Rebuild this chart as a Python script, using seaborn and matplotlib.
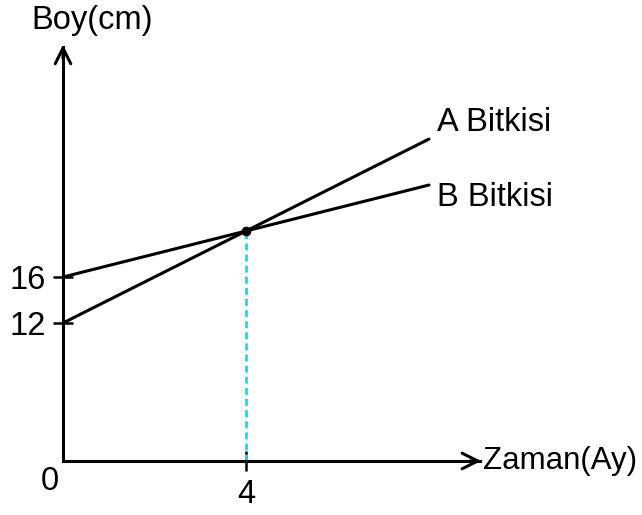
import matplotlib
matplotlib.use("Agg")
import matplotlib.pyplot as plt
import seaborn as sns
import pandas as pd

# data
months = [0, 4, 8]
plant_a = [12, 20, 28]
plant_b = [16, 20, 24]
series_names = ["A Bitkisi", "B Bitkisi"]
y_ticks = [12, 16]
x_ticks = [4]
meet_x, meet_y = 4, 20

df = pd.DataFrame({
    "Zaman": months * 2,
    "Boy": plant_a + plant_b,
    "bitki": [series_names[0]] * 3 + [series_names[1]] * 3,
})

sns.set_style("white")
plt.rcParams["font.family"] = ["Liberation Sans", "DejaVu Sans"]
plt.rcParams["text.color"] = "black"

fig = plt.figure(figsize=(6.42, 5.15), dpi=100)
ax = fig.add_axes([0, 0, 1, 1])

sns.lineplot(data=df, x="Zaman", y="Boy", hue="bitki",
             palette=["black", "black"], linewidth=2.2, legend=False, ax=ax)

# dashed cyan drop line and meeting point
ax.plot([meet_x, meet_x], [0, meet_y], color="#00e5ee", linestyle=(0, (2.5, 1.5)),
        linewidth=2, zorder=1)
ax.plot([meet_x], [meet_y], "o", color="black", markersize=6, zorder=4)

ax.set_xlim(-1.377, 12.656)
ax.set_ylim(-4.696, 40.09)

# axes as spines through origin
for s in ["top", "right"]:
    ax.spines[s].set_visible(False)
ax.spines["left"].set_position(("data", 0))
ax.spines["bottom"].set_position(("data", 0))
ax.spines["left"].set_bounds(0, 36)
ax.spines["bottom"].set_bounds(0, 9.12)
for s in ["left", "bottom"]:
    ax.spines[s].set_linewidth(2.2)
    ax.spines[s].set_color("black")

ax.set_yticks(y_ticks)
ax.set_xticks(x_ticks)
ax.tick_params(axis="both", direction="inout", length=14.5, width=1.8,
               labelsize=23.5, colors="black", left=True, bottom=True)
ax.tick_params(axis="y", pad=5)
ax.tick_params(axis="x", pad=6)
ax.set_xlabel("")
ax.set_ylabel("")

# arrow heads
arrow = dict(arrowstyle="->", color="black", lw=2.2, mutation_scale=28,
             shrinkA=0, shrinkB=0)
ax.annotate("", xy=(0, 36.2), xytext=(0, 35.0), arrowprops=arrow)
ax.annotate("", xy=(9.14, 0), xytext=(8.9, 0), arrowprops=arrow)

fs = 23.5
ax.text(0.63, 38.3, "Boy(cm)", fontsize=fs, ha="center", va="center")
ax.text(9.17, 0, "Zaman(Ay)", fontsize=22.5, ha="left", va="center")
ax.text(-0.28, -1.75, "0", fontsize=fs, ha="center", va="center")
ax.text(8.17, 29.4, series_names[0], fontsize=fs, ha="left", va="center")
ax.text(8.17, 22.9, series_names[1], fontsize=fs, ha="left", va="center")

fig.savefig("out.png", dpi=100)
